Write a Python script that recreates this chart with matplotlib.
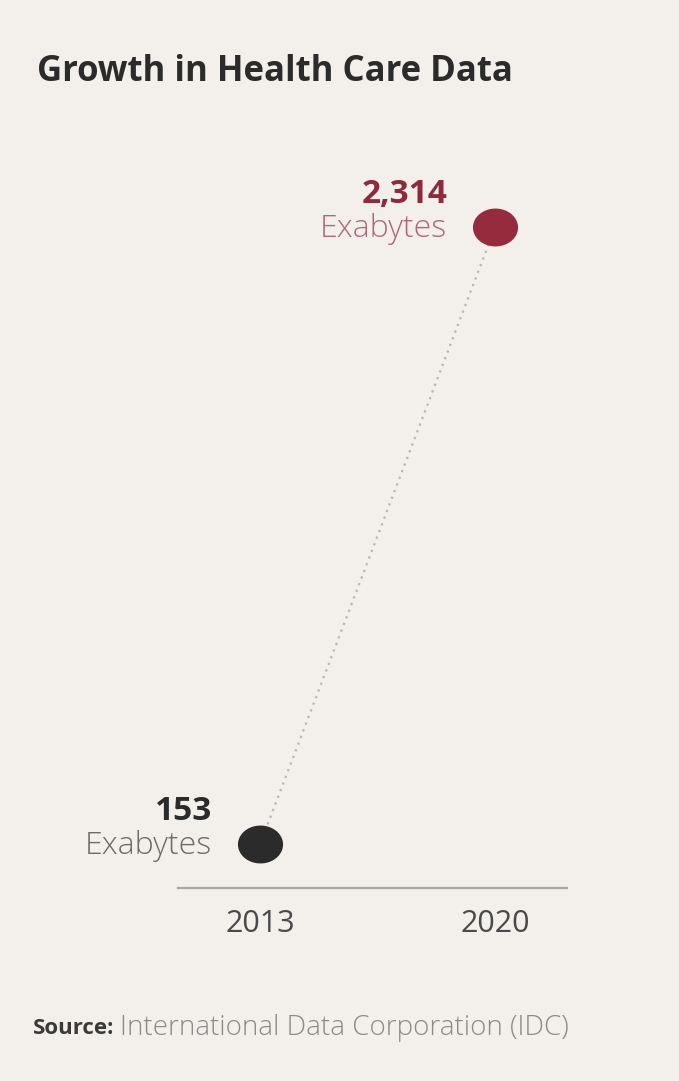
import matplotlib
matplotlib.use("Agg")
import matplotlib.pyplot as plt
import numpy as np
from matplotlib.path import Path

years = ["2013", "2020"]
values = [153, 2314]
value_labels = ["153", "2,314"]
unit = "Exabytes"
title = "Growth in Health Care Data"
source_bold = "Source:"
source_text = "International Data Corporation (IDC)"

BG = "#f3f0ec"
dot_colors = ["#2b2b2b", "#952b3c"]
num_colors = ["#2b2b2b", "#8e2a3b"]
unit_colors = ["#6b6b6b", "#b0677a"]

plt.rcParams['font.family'] = ['Open Sans', 'DejaVu Sans']

W, H = 679, 1081
fig = plt.figure(figsize=(W / 100, H / 100), dpi=100, facecolor=BG)

# axes placement in pixels
ax_left, ax_right = 178, 567
ax_bottom, ax_top = 888, 150
ax = fig.add_axes([ax_left / W, 1 - ax_bottom / H, (ax_right - ax_left) / W, (ax_bottom - ax_top) / H])
ax.set_facecolor(BG)
for s in ["top", "right", "left"]:
    ax.spines[s].set_visible(False)
ax.spines["bottom"].set_color("#a9a7a4")
ax.spines["bottom"].set_linewidth(1.6)

x = np.arange(len(years))
ax.plot(x, values, linestyle=(0, (1, 2.2)), color="#b9b6b2", linewidth=1.6, zorder=1)

# slightly elliptical marker
t = np.linspace(0, 2 * np.pi, 60)
verts = np.column_stack([np.cos(t), 0.84 * np.sin(t)])
ell = Path(verts, closed=True)
for xi, v, c in zip(x, values, dot_colors):
    ax.plot([xi], [v], marker=ell, markersize=32.5, color=c, markeredgewidth=0, zorder=3, linestyle="none")

ax.set_xlim(-0.349, 1.306)
ax.set_ylim(0, 2585)
ax.set_yticks([])
ax.set_xticks(x)
ax.set_xticklabels(years, fontsize=22, color="#4a4a4a")
ax.tick_params(axis="x", length=0, pad=15)

for xi, v, lab, nc, uc in zip(x, values, value_labels, num_colors, unit_colors):
    ax.annotate(lab, (xi, v), xytext=(-48, 33), textcoords="offset pixels",
                ha="right", va="center", fontsize=24, fontweight="bold", color=nc)
    ax.annotate(unit, (xi, v), xytext=(-48, -2), textcoords="offset pixels",
                ha="right", va="center", fontsize=23, fontweight="light", color=uc)

fig.text(37 / W, 1 - 72 / H, title, ha="left", va="center", fontsize=25,
         fontweight="bold", color="#2b2b2b")

t1 = fig.text(33 / W, 1 - 1028 / H, source_bold, ha="left", va="center", fontsize=16,
              fontweight="bold", color="#3a3a3a")
fig.canvas.draw()
bb = t1.get_window_extent()
fig.text((bb.x1 + 6) / W, 1 - 1028 / H, source_text, ha="left", va="center", fontsize=20,
         fontweight="light", color="#8a8a8a")

fig.savefig("out.png", dpi=100, facecolor=BG)
